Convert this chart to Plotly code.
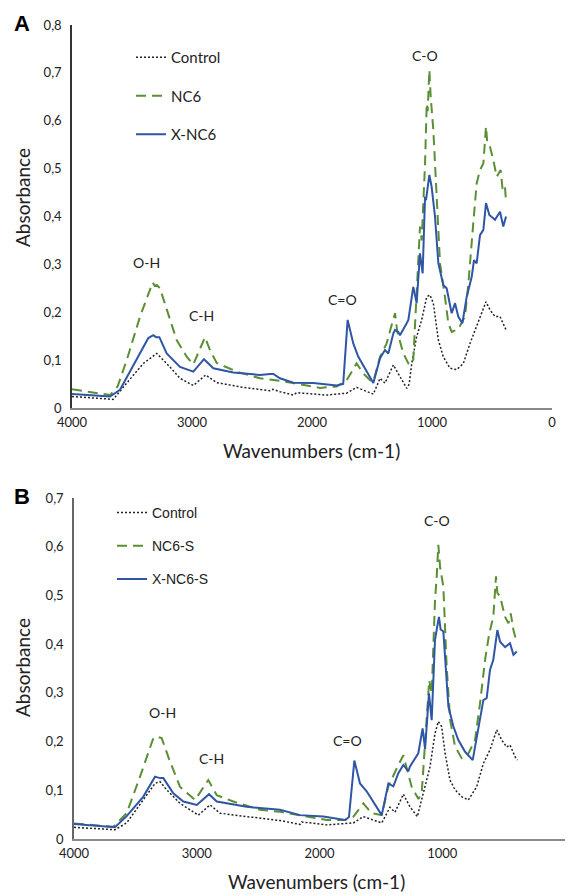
import plotly.graph_objects as go

# ---------------- Panel A data ----------------
a_ctrl_wn = [4000, 3800, 3656, 3544, 3406, 3294, 3211, 3100, 2989, 2886, 2794, 2572, 2433, 2350, 2325,
             2267, 2156, 2128, 1878, 1711, 1628, 1489, 1433, 1392, 1322, 1300, 1281, 1239, 1211, 1190,
             1169, 1128, 1086, 1044, 1017, 989, 947, 906, 850, 794, 739, 683, 628, 586, 550, 517, 475,
             433, 406, 383]
a_ctrl_abs = [0.024, 0.021, 0.018, 0.052, 0.093, 0.114, 0.093, 0.062, 0.047, 0.069, 0.053, 0.043, 0.038,
              0.036, 0.039, 0.034, 0.027, 0.032, 0.027, 0.031, 0.043, 0.029, 0.062, 0.052, 0.090, 0.080,
              0.072, 0.055, 0.041, 0.050, 0.093, 0.149, 0.184, 0.232, 0.236, 0.219, 0.142, 0.107, 0.083,
              0.080, 0.093, 0.135, 0.170, 0.198, 0.222, 0.205, 0.191, 0.191, 0.177, 0.163]

a_nc6_wn = [4000, 3683, 3620, 3544, 3433, 3328, 3310, 3294, 3267, 3211, 3128, 3044, 2989, 2892, 2850,
            2794, 2628, 2433, 2267, 2156, 1933, 1794, 1711, 1628, 1572, 1503, 1489, 1433, 1378, 1340,
            1308, 1290, 1239, 1197, 1183, 1156, 1100, 1086, 1058, 1044, 1036, 1022, 1011, 989, 961, 933,
            892, 864, 836, 781, 725, 697, 656, 628, 600, 572, 550, 539, 517, 489, 461, 428, 411, 392, 383]
a_nc6_abs = [0.039, 0.027, 0.045, 0.100, 0.191, 0.262, 0.255, 0.257, 0.250, 0.205, 0.142, 0.107, 0.091,
             0.148, 0.121, 0.094, 0.076, 0.062, 0.057, 0.052, 0.042, 0.045, 0.058, 0.093, 0.072, 0.055,
             0.055, 0.107, 0.135, 0.170, 0.198, 0.160, 0.114, 0.093, 0.090, 0.101, 0.379, 0.350, 0.511,
             0.636, 0.620, 0.706, 0.650, 0.581, 0.441, 0.302, 0.232, 0.177, 0.159, 0.165, 0.191, 0.260,
             0.386, 0.469, 0.497, 0.511, 0.588, 0.553, 0.546, 0.518, 0.483, 0.497, 0.455, 0.462, 0.431]

a_xnc6_wn = [4000, 3683, 3600, 3461, 3364, 3322, 3300, 3272, 3211, 3100, 2989, 2900, 2822, 2656, 2433,
             2350, 2322, 2267, 2156, 1989, 1794, 1740, 1703, 1656, 1614, 1489, 1433, 1392, 1364, 1322,
             1308, 1281, 1267, 1211, 1197, 1156, 1128, 1100, 1078, 1058, 1050, 1022, 1003, 975, 947, 906,
             878, 836, 808, 781, 747, 711, 669, 650, 628, 600, 572, 550, 522, 475, 433, 406, 383]
a_xnc6_abs = [0.029, 0.024, 0.038, 0.100, 0.146, 0.152, 0.148, 0.148, 0.114, 0.086, 0.076, 0.102, 0.083,
              0.074, 0.069, 0.071, 0.071, 0.062, 0.053, 0.052, 0.047, 0.050, 0.184, 0.135, 0.107, 0.052,
              0.104, 0.121, 0.114, 0.156, 0.163, 0.159, 0.152, 0.177, 0.184, 0.253, 0.219, 0.323, 0.281,
              0.441, 0.434, 0.487, 0.462, 0.400, 0.302, 0.257, 0.250, 0.198, 0.219, 0.191, 0.177, 0.232,
              0.274, 0.309, 0.302, 0.361, 0.372, 0.428, 0.403, 0.393, 0.410, 0.379, 0.400]

# ---------------- Panel B data ----------------
b_ctrl_wn = [4000, 3666, 3571, 3435, 3340, 3300, 3245, 3136, 2987, 2892, 2810, 2593, 2376, 2322, 2159,
             2145, 1942, 1724, 1643, 1493, 1426, 1385, 1317, 1263, 1203, 1154, 1100, 1059, 1032, 1005,
             977, 937, 896, 842, 788, 720, 665, 611, 556, 515, 475, 448, 407, 388]
b_ctrl_abs = [0.024, 0.019, 0.033, 0.080, 0.114, 0.118, 0.101, 0.073, 0.049, 0.070, 0.053, 0.046, 0.039,
              0.038, 0.030, 0.035, 0.029, 0.033, 0.046, 0.033, 0.065, 0.055, 0.092, 0.066, 0.046, 0.095,
              0.148, 0.217, 0.241, 0.231, 0.176, 0.121, 0.101, 0.087, 0.080, 0.107, 0.155, 0.183, 0.224,
              0.203, 0.189, 0.193, 0.169, 0.162]

b_nc6s_wn = [4000, 3680, 3571, 3462, 3354, 3326, 3286, 3218, 3136, 3014, 2906, 2837, 2702, 2485, 2322,
             1942, 1792, 1724, 1643, 1575, 1493, 1439, 1371, 1317, 1249, 1194, 1167, 1106, 1086, 1059,
             1045, 1032, 1018, 991, 964, 936, 896, 842, 800, 733, 692, 651, 617, 584, 562, 551, 529, 488,
             461, 442, 420, 399]
b_nc6s_abs = [0.032, 0.025, 0.053, 0.128, 0.207, 0.210, 0.207, 0.159, 0.107, 0.080, 0.121, 0.090, 0.077,
              0.060, 0.056, 0.039, 0.039, 0.046, 0.073, 0.053, 0.049, 0.108, 0.145, 0.172, 0.107, 0.082,
              0.095, 0.326, 0.299, 0.491, 0.539, 0.604, 0.559, 0.518, 0.354, 0.245, 0.190, 0.166, 0.169,
              0.203, 0.279, 0.368, 0.422, 0.456, 0.539, 0.505, 0.498, 0.456, 0.443, 0.463, 0.429, 0.409]

b_xnc6s_wn = [4000, 3666, 3571, 3435, 3340, 3300, 3272, 3191, 3109, 3000, 2900, 2837, 2593, 2485, 2322,
              2159, 1969, 1792, 1760, 1716, 1670, 1616, 1493, 1439, 1398, 1358, 1317, 1276, 1263, 1195,
              1160, 1140, 1108, 1086, 1059, 1045, 1027, 1013, 991, 950, 909, 869, 814, 752, 706, 665, 638,
              611, 584, 551, 529, 488, 448, 420, 393]
b_xnc6s_abs = [0.031, 0.024, 0.047, 0.087, 0.128, 0.125, 0.125, 0.094, 0.077, 0.070, 0.092, 0.077, 0.066,
               0.063, 0.060, 0.049, 0.046, 0.039, 0.045, 0.161, 0.114, 0.098, 0.049, 0.114, 0.108, 0.135,
               0.152, 0.139, 0.149, 0.176, 0.227, 0.185, 0.299, 0.244, 0.409, 0.430, 0.456, 0.430, 0.426,
               0.272, 0.231, 0.203, 0.179, 0.162, 0.224, 0.285, 0.289, 0.347, 0.368, 0.429, 0.405, 0.394,
               0.402, 0.378, 0.385]

# ---------------- labels / ticks ----------------
x_tickvals = [4000, 3000, 2000, 1000, 0]
x_ticktext = ["4000", "3000", "2000", "1000", "0"]
ya_tickvals = [0, 0.1, 0.2, 0.3, 0.4, 0.5, 0.6, 0.7, 0.8]
ya_ticktext = ["0", "0,1", "0,2", "0,3", "0,4", "0,5", "0,6", "0,7", "0,8"]
yb_tickvals = [0, 0.1, 0.2, 0.3, 0.4, 0.5, 0.6, 0.7]
yb_ticktext = ["0", "0,1", "0,2", "0,3", "0,4", "0,5", "0,6", "0,7"]

band_labels = ["O-H", "C-H", "C=O", "C-O"]
a_band_wn = [3383, 2917, 1750, 1058]
a_band_abs = [0.303, 0.194, 0.226, 0.737]
b_band_wn = [3283, 2876, 1768, 1043]
b_band_abs = [0.259, 0.166, 0.203, 0.653]

GREEN = "#5A8F34"
BLUE = "#2F56A6"
BLACK = "#222222"

W, H = 569, 895

fig = go.Figure()

def add(x, y, name, color, dash, width, xa, ya, legend, group):
    fig.add_trace(go.Scatter(
        x=x, y=y, name=name, mode="lines",
        line=dict(color=color, dash=dash, width=width),
        xaxis=xa, yaxis=ya, legend=legend, legendgroup=group,
    ))

add(a_ctrl_wn, a_ctrl_abs, "Control", BLACK, "2px,2px", 1.5, "x", "y", "legend", "a1")
add(a_nc6_wn, a_nc6_abs, "NC6", GREEN, "10px,6px", 2, "x", "y", "legend", "a2")
add(a_xnc6_wn, a_xnc6_abs, "X-NC6", BLUE, "solid", 2, "x", "y", "legend", "a3")

add(b_ctrl_wn, b_ctrl_abs, "Control", BLACK, "2px,2px", 1.5, "x2", "y2", "legend2", "b1")
add(b_nc6s_wn, b_nc6s_abs, "NC6-S", GREEN, "10px,6px", 2, "x2", "y2", "legend2", "b2")
add(b_xnc6s_wn, b_xnc6s_abs, "X-NC6-S", BLUE, "solid", 2, "x2", "y2", "legend2", "b3")

tick_font = dict(family="Lato, Open Sans, sans-serif", size=13, color="#222")

def px_x(p):
    return p / W

def px_y(p):
    return 1 - p / H

common_x = dict(range=[4000, 0], tickvals=x_tickvals, ticktext=x_ticktext, showgrid=False,
                zeroline=False, showline=True, linecolor="#8a8a8a", linewidth=1.5, automargin=False,
                ticks="", ticklabelstandoff=2, tickfont=tick_font)
common_y = dict(showgrid=False, zeroline=False, showline=True, linewidth=1.5, automargin=False,
                ticks="outside", ticklen=6, tickcolor="rgba(0,0,0,0)", tickfont=tick_font)

fig.update_layout(
    template="none",
    width=W, height=H, autosize=False,
    margin=dict(l=0, r=0, t=0, b=0, pad=0),
    paper_bgcolor="white", plot_bgcolor="white",
    showlegend=True,
    xaxis=dict(domain=[px_x(72), px_x(552)], anchor="y", **common_x),
    yaxis=dict(domain=[px_y(408), px_y(25)], anchor="x", range=[0, 0.8],
               tickvals=ya_tickvals, ticktext=ya_ticktext, linecolor="#333", **common_y),
    xaxis2=dict(domain=[px_x(74), px_x(565)], anchor="y2", **common_x),
    yaxis2=dict(domain=[px_y(839), px_y(498)], anchor="x2", range=[0, 0.7],
                tickvals=yb_tickvals, ticktext=yb_ticktext, linecolor="#666", **common_y),
    legend=dict(x=px_x(131), y=px_y(41), xanchor="left", yanchor="top",
                bgcolor="rgba(0,0,0,0)", itemwidth=30, tracegroupgap=16,
                traceorder="grouped",
                font=dict(family="Lato, Open Sans, sans-serif", size=15, color="#222")),
    legend2=dict(x=px_x(112), y=px_y(497), xanchor="left", yanchor="top",
                 bgcolor="rgba(0,0,0,0)", itemwidth=30, tracegroupgap=12,
                 traceorder="grouped",
                 font=dict(family="Liberation Sans, Arial, sans-serif", size=14, color="#222")),
)

ann_font = dict(family="Lato, Open Sans, sans-serif", size=14, color="#222")
for lab, wn, ab in zip(band_labels, a_band_wn, a_band_abs):
    fig.add_annotation(x=wn, y=ab, xref="x", yref="y", text=lab, showarrow=False, font=ann_font,
                       xanchor="center", yanchor="middle")
for lab, wn, ab in zip(band_labels, b_band_wn, b_band_abs):
    fig.add_annotation(x=wn, y=ab, xref="x2", yref="y2", text=lab, showarrow=False, font=ann_font,
                       xanchor="center", yanchor="middle")

title_font = dict(family="Lato, Open Sans, sans-serif", size=19, color="#222")
# axis titles
for tx, ty, txt, ang in [(22, 198, "Absorbance", -90), (22, 668, "Absorbance", -90),
                         (311, 451, "Wavenumbers (cm-1)", 0), (316, 881, "Wavenumbers (cm-1)", 0)]:
    fig.add_annotation(x=px_x(tx), y=px_y(ty), xref="paper", yref="paper", text=txt,
                       textangle=ang, showarrow=False, font=title_font,
                       xanchor="center", yanchor="middle")

# panel letters
letter_font = dict(family="Liberation Sans, Arial, sans-serif", size=22, color="black")
for tx, ty, txt in [(22, 24, "<b>A</b>"), (22, 496, "<b>B</b>")]:
    fig.add_annotation(x=px_x(tx), y=px_y(ty), xref="paper", yref="paper", text=txt,
                       showarrow=False, font=letter_font, xanchor="center", yanchor="middle")

fig.write_html(
    "out.html",
    config={"displayModeBar": False},
    post_script="document.body.style.margin='0';document.body.style.overflow='hidden';",
)
